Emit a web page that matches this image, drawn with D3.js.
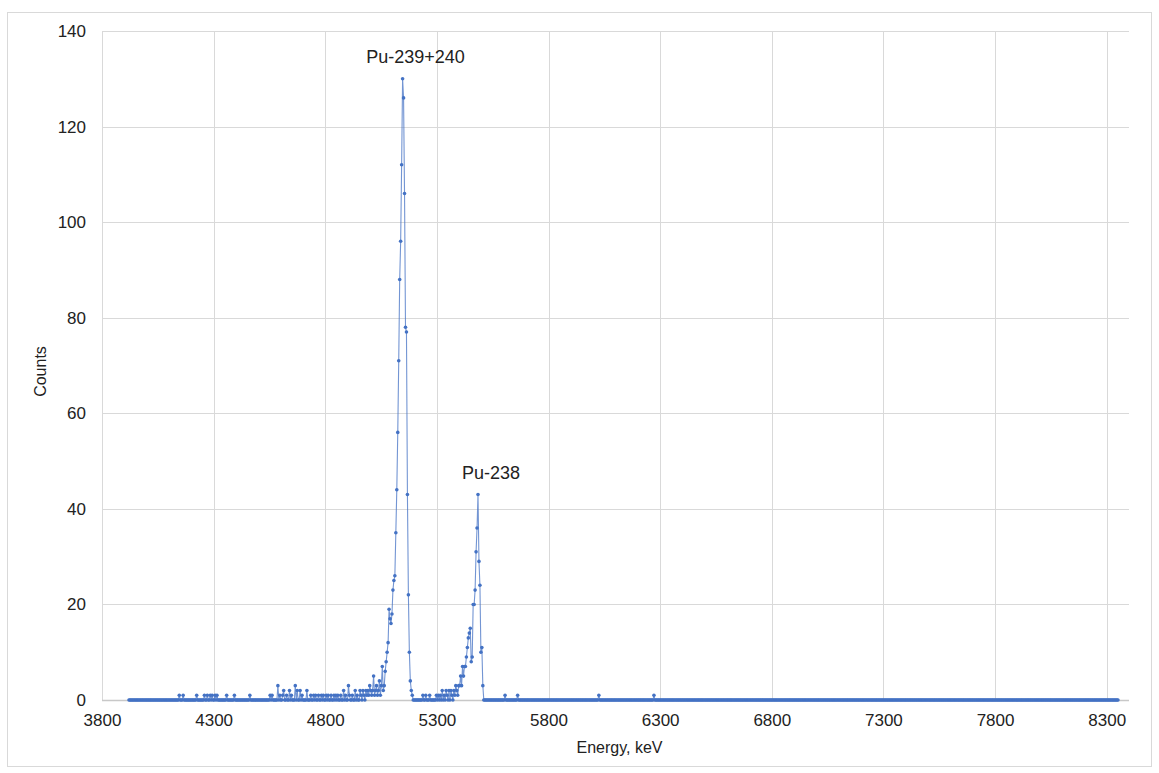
<!DOCTYPE html>
<html>
<head>
<meta charset="utf-8">
<script src="https://cdn.jsdelivr.net/npm/d3@7"></script>
<style>
  html, body { margin: 0; padding: 0; background: #fff; }
  svg { display: block; font-family: "Liberation Sans", Arial, sans-serif; }
</style>
</head>
<body>
<svg id="chart" width="1159" height="773"></svg>
<script>
// Alpha spectrum: 1024-channel MCA, linear energy calibration
const channelCount = 1024;
const calibOffsetKeV = 3921;   // energy of channel 0
const calibGainKeV = 4.33;     // keV per channel

// Channels holding at least one count (every other channel is empty)
const hitChannels = [
  52, 56, 70, 78, 81, 84, 86, 89, 91, 101, 109, 125, 146, 148, 154, 156, 159, 160, 163, 166,
  168, 172, 174, 177, 179, 184, 188, 191, 193, 196, 199, 201, 204, 206, 209, 212, 214, 216, 219, 222,
  224, 227, 228, 231, 234, 236, 239, 240, 242, 243, 245, 246, 247, 248, 249, 250, 251, 252, 253, 254,
  255, 256, 257, 258, 259, 260, 261, 262, 263, 264, 265, 266, 267, 268, 269, 270, 271, 272, 273, 274,
  275, 276, 277, 278, 279, 280, 281, 282, 283, 284, 285, 286, 287, 288, 289, 290, 291, 292, 293,
  304, 307, 311, 318, 320, 322, 324, 326, 328, 329, 331, 333, 334, 336, 337, 338, 339, 340, 341, 342,
  343, 344, 345, 346, 347, 348, 349, 350, 351, 352, 353, 354, 355, 356, 357, 358, 359, 360, 361, 362,
  363, 364, 365, 366, 389, 402, 486, 543
];
const hitCounts = [
  1, 1, 1, 1, 1, 1, 1, 1, 1, 1, 1, 1, 1, 1, 3, 1, 1, 2, 1, 2,
  1, 3, 2, 2, 1, 2, 1, 1, 1, 1, 1, 1, 1, 1, 1, 1, 1, 1, 1, 2,
  1, 3, 1, 1, 2, 1, 2, 1, 2, 1, 2, 1, 2, 1, 3, 2, 1, 2, 5, 1,
  2, 3, 1, 2, 4, 1, 3, 7, 2, 3, 6, 8, 10, 12, 19, 17, 16, 18, 23, 25,
  26, 35, 44, 56, 71, 88, 96, 112, 130, 126, 106, 78, 77, 43, 22, 10, 4, 2, 1,
  1, 1, 1, 1, 1, 1, 2, 1, 2, 1, 2, 2, 1, 2, 1, 3, 2, 1, 3, 3,
  5, 3, 7, 5, 7, 7, 9, 11, 13, 14, 15, 8, 9, 20, 20, 23, 31, 36, 43, 29,
  24, 10, 11, 3, 1, 1, 1, 1
];

// Peak annotations
const peakNames = ["Pu-239+240", "Pu-238"];
const peakChannels = [283, 361];

const xTicks = [3800, 4300, 4800, 5300, 5800, 6300, 6800, 7300, 7800, 8300];
const yTicks = [0, 20, 40, 60, 80, 100, 120, 140];
const xDomain = [3800, 8400];
const yDomain = [0, 140];

// Full spectrum: one point per channel
const countByChannel = new Map(hitChannels.map((c, i) => [c, hitCounts[i]]));
const spectrum = d3.range(channelCount).map(ch => ({
  energy: calibOffsetKeV + calibGainKeV * ch,
  counts: countByChannel.get(ch) || 0
}));

const svg = d3.select("#chart");
const W = 1159, H = 773;
const margin = { left: 102, right: 30, top: 31, bottom: 73 };
const plotW = W - margin.left - margin.right;
const plotH = H - margin.top - margin.bottom;

const x = d3.scaleLinear().domain(xDomain).range([margin.left, margin.left + plotW]);
const y = d3.scaleLinear().domain(yDomain).range([margin.top + plotH, margin.top]);

const blue = "#4472c4";
const gridColor = "#d9d9d9";
const textColor = "#222";

// Outer frame
svg.append("rect")
  .attr("x", 7.5).attr("y", 12.5)
  .attr("width", 1144).attr("height", 754)
  .attr("fill", "none").attr("stroke", gridColor).attr("stroke-width", 1);

// Horizontal grid + y labels
const yAxis = d3.axisLeft(y).tickValues(yTicks).tickSize(-plotW).tickPadding(16);
const gy = svg.append("g").attr("transform", `translate(${margin.left},0)`).call(yAxis);
gy.select(".domain").remove();
gy.selectAll(".tick line").attr("stroke", gridColor).attr("stroke-width", 1)
  .attr("shape-rendering", "crispEdges");
gy.selectAll(".tick text").attr("fill", textColor).attr("font-size", 17)
  .attr("font-family", "Liberation Sans, Arial, sans-serif");

// Vertical grid + x labels
const xAxis = d3.axisBottom(x).tickValues(xTicks).tickSize(-plotH).tickPadding(14)
  .tickFormat(d3.format("d"));
const gx = svg.append("g").attr("transform", `translate(0,${margin.top + plotH})`).call(xAxis);
gx.select(".domain").remove();
gx.selectAll(".tick line").attr("stroke", gridColor).attr("stroke-width", 1)
  .attr("shape-rendering", "crispEdges");
gx.selectAll(".tick text").attr("fill", textColor).attr("font-size", 17)
  .attr("font-family", "Liberation Sans, Arial, sans-serif");

// Baseline
svg.append("line")
  .attr("x1", margin.left).attr("x2", margin.left + plotW)
  .attr("y1", y(0) + 0.5).attr("y2", y(0) + 0.5)
  .attr("stroke", "#c8c8c8").attr("stroke-width", 1.5);

// Spectrum line
const line = d3.line().x(d => x(d.energy)).y(d => y(d.counts));
svg.append("path")
  .datum(spectrum)
  .attr("d", line)
  .attr("fill", "none")
  .attr("stroke", blue)
  .attr("stroke-opacity", 0.75)
  .attr("stroke-width", 1.1)
  .attr("stroke-linejoin", "round");

// Channel markers
svg.append("g").selectAll("circle")
  .data(spectrum)
  .join("circle")
  .attr("cx", d => x(d.energy))
  .attr("cy", d => y(d.counts))
  .attr("r", 1.8)
  .attr("fill", blue);

// Peak labels
svg.append("g").selectAll("text")
  .data(peakNames.map((name, i) => ({ name, pt: spectrum[peakChannels[i]] })))
  .join("text")
  .attr("x", d => x(d.pt.energy) + 13)
  .attr("y", d => y(d.pt.counts) - 16)
  .attr("text-anchor", "middle")
  .attr("font-size", 18)
  .attr("fill", textColor)
  .text(d => d.name);

// Axis titles
svg.append("text")
  .attr("x", margin.left + plotW / 2 + 4)
  .attr("y", 753)
  .attr("text-anchor", "middle")
  .attr("font-size", 16)
  .attr("fill", textColor)
  .text("Energy, keV");

svg.append("text")
  .attr("transform", `translate(46,${margin.top + plotH / 2 + 6}) rotate(-90)`)
  .attr("text-anchor", "middle")
  .attr("font-size", 16)
  .attr("fill", textColor)
  .text("Counts");
</script>
</body>
</html>
